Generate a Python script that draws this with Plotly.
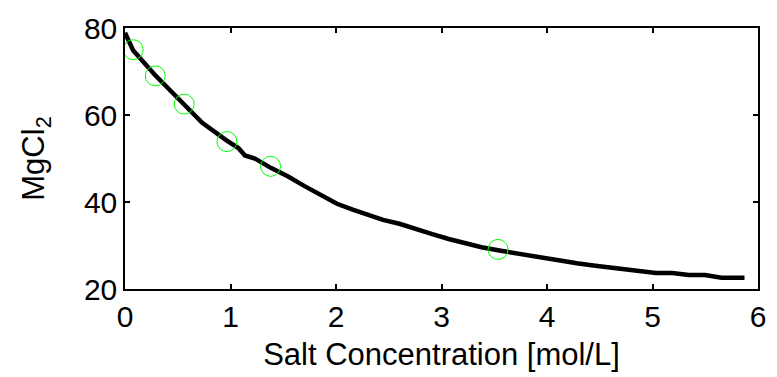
import plotly.graph_objects as go

# Curve
curve_x = [0.0, 0.078, 0.280, 0.545, 0.732, 0.965, 1.075, 1.137, 1.231, 1.386, 1.542,
           1.698, 1.853, 2.009, 2.165, 2.321, 2.446, 2.601, 2.757, 2.913, 3.068,
           3.224, 3.380, 3.536, 3.660, 3.816, 3.972, 4.128, 4.283, 4.439, 4.595,
           4.751, 4.876, 5.031, 5.187, 5.343, 5.498, 5.654, 5.872]
curve_y = [78.9, 74.8, 69.3, 62.6, 58.2, 54.1, 52.4, 50.7, 50.0, 47.8, 45.9,
           43.7, 41.8, 39.6, 38.2, 37.0, 35.9, 35.0, 33.7, 32.6, 31.5,
           30.5, 29.6, 28.9, 28.4, 27.8, 27.0, 26.5, 25.9, 25.4, 25.0,
           24.4, 24.3, 23.7, 23.7, 23.2, 23.2, 22.6, 22.6]

# Measured points (green circles)
pts_x = [0.078, 0.287, 0.561, 0.966, 1.38, 3.536]
pts_y = [75.0, 69.0, 62.5, 53.9, 48.2, 29.1]

x_ticks = [0, 1, 2, 3, 4, 5, 6]
y_ticks = [20, 40, 60, 80]

FONT = "Liberation Sans, Arial, sans-serif"

fig = go.Figure()
fig.add_trace(go.Scatter(x=curve_x, y=curve_y, mode="lines",
                         line=dict(color="black", width=4.5), showlegend=False))
fig.add_trace(go.Scatter(x=pts_x, y=pts_y, mode="markers",
                         marker=dict(symbol="circle-open", size=20,
                                     color="#00ff00", line=dict(width=1)),
                         showlegend=False))

axis_common = dict(showline=True, linecolor="black", linewidth=1.5, mirror="ticks",
                   ticks="inside", ticklen=5, tickwidth=1.5, tickcolor="black",
                   showgrid=False, zeroline=False,
                   tickfont=dict(family=FONT, size=30, color="black"))

fig.update_layout(
    width=777, height=377,
    margin=dict(l=125, r=11, t=20, b=86),
    paper_bgcolor="white", plot_bgcolor="white",
    font=dict(family=FONT, color="black"),
    xaxis=dict(range=[0, 6], tickvals=x_ticks, ticktext=[str(v) for v in x_ticks],
               title=dict(text="Salt Concentration [mol/L]",
                          font=dict(family=FONT, size=31, color="black"), standoff=12),
               **axis_common),
    yaxis=dict(range=[20, 80], tickvals=y_ticks, ticktext=[str(v) for v in y_ticks],
               title=dict(text="MgCl<sub>2</sub>",
                          font=dict(family=FONT, size=31, color="black"), standoff=30),
               **axis_common),
)

fig.write_html("out.html")
